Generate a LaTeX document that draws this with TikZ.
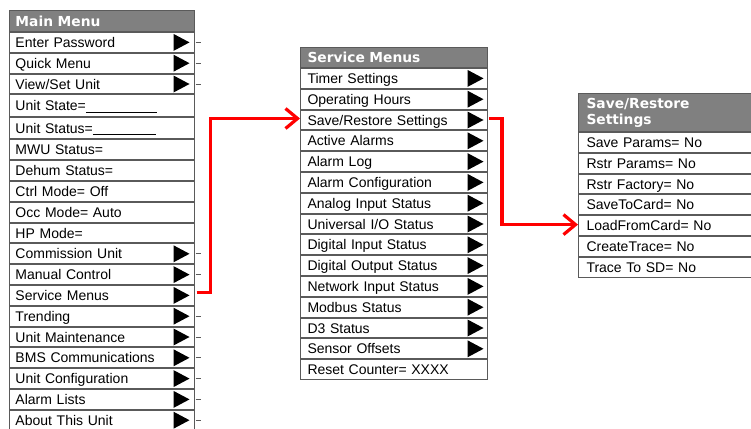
\documentclass[tikz,border=0pt]{standalone}
\usepackage{fontspec}
\setmainfont{Liberation Sans}
\newfontfamily\headfont{DejaVu Sans}
\usetikzlibrary{arrows.meta, positioning}
\definecolor{headgray}{HTML}{808080}
\definecolor{rulegray}{HTML}{5A5A5A}
% black submenu triangle at the right end of a row, optional tick outside
\newcommand{\subarrow}[2][-5.5pt]{%
  \fill[black] ([xshift=#1]#2.east) -- ++(-16,-8.5) -- ++(0,17) -- cycle;}
\newcommand{\subtick}[1]{\draw[tick] ([xshift=0.5pt]#1.east) -- ++(5,0);}

\begin{document}
\begin{tikzpicture}[x=1pt, y=-1pt,
    head/.style={draw=rulegray, line width=1pt, fill=headgray, text=white,
                 font=\headfont\bfseries\fontsize{13.8}{16}\selectfont,
                 align=left, inner ysep=0pt, anchor=north west},
    item/.style={draw=rulegray, line width=1pt, fill=white,
                 font=\fontsize{14}{16}\selectfont, align=left,
                 text height=12.5pt, text depth=2.5pt, inner ysep=0pt,
                 minimum height=19.8pt, below=0pt of #1},
    link/.style={draw=red, line width=3.2pt,
                 -{Straight Barb[length=12pt,width=20pt]}},
    tick/.style={draw=rulegray, line width=0.8pt},
]
\useasboundingbox (0,0) rectangle (751,428);

% Main Menu
\begin{scope}[every node/.append style={text width=173pt, inner xsep=6pt}]
  \node[head, minimum height=21pt] (mm) at (9,10) {Main Menu};
  \node[item=mm] (m1) {Enter Password};
  \node[item=m1] (m2) {Quick Menu};
  \node[item=m2] (m3) {View/Set Unit};
  \node[item=m3, minimum height=21.5pt] (m4) {Unit State=\rule[-2pt]{71pt}{0.9pt}};
  \node[item=m4, minimum height=21.5pt] (m5) {Unit Status=\rule[-2pt]{63pt}{0.9pt}};
  \node[item=m5] (m6) {MWU Status=};
  \node[item=m6] (m7) {Dehum Status=};
  \node[item=m7] (m8) {Ctrl Mode= Off};
  \node[item=m8] (m9) {Occ Mode= Auto};
  \node[item=m9] (m10) {HP Mode=};
  \node[item=m10] (m11) {Commission Unit};
  \node[item=m11] (m12) {Manual Control};
  \node[item=m12] (m13) {Service Menus};
  \node[item=m13] (m14) {Trending};
  \node[item=m14] (m15) {Unit Maintenance};
  \node[item=m15] (m16) {BMS Communications};
  \node[item=m16] (m17) {Unit Configuration};
  \node[item=m17] (m18) {Alarm Lists};
  \node[item=m18] (m19) {About This Unit};
\end{scope}
\subarrow{m1} \subarrow{m2} \subarrow{m3}
\subarrow{m11} \subarrow{m12} \subarrow{m13} \subarrow{m14}
\subarrow{m15} \subarrow{m16} \subarrow{m17} \subarrow{m18} \subarrow{m19}
\subtick{m1} \subtick{m2} \subtick{m3}
\subtick{m11} \subtick{m12} \subtick{m14}
\subtick{m15} \subtick{m16} \subtick{m17} \subtick{m18} \subtick{m19}

% Service Menus
\begin{scope}[every node/.append style={text width=173pt, inner xsep=7pt}]
  \node[head, minimum height=20pt] (sm) at (300,47) {Service Menus};
  \node[item=sm] (s1) {Timer Settings};
  \node[item=s1] (s2) {Operating Hours};
  \node[item=s2] (s3) {Save/Restore Settings};
  \node[item=s3] (s4) {Active Alarms};
  \node[item=s4] (s5) {Alarm Log};
  \node[item=s5] (s6) {Alarm Configuration};
  \node[item=s6] (s7) {Analog Input Status};
  \node[item=s7] (s8) {Universal I/O Status};
  \node[item=s8] (s9) {Digital Input Status};
  \node[item=s9] (s10) {Digital Output Status};
  \node[item=s10] (s11) {Network Input Status};
  \node[item=s11] (s12) {Modbus Status};
  \node[item=s12] (s13) {D3 Status};
  \node[item=s13] (s14) {Sensor Offsets};
  \node[item=s14] (s15) {Reset Counter= XXXX};
\end{scope}
\subarrow[-4.5pt]{s1} \subarrow[-4.5pt]{s2} \subarrow[-4.5pt]{s3}
\subarrow[-4.5pt]{s4} \subarrow[-4.5pt]{s5} \subarrow[-4.5pt]{s6}
\subarrow[-4.5pt]{s7} \subarrow[-4.5pt]{s8} \subarrow[-4.5pt]{s9}
\subarrow[-4.5pt]{s10} \subarrow[-4.5pt]{s11} \subarrow[-4.5pt]{s12}
\subarrow[-4.5pt]{s13} \subarrow[-4.5pt]{s14}

% Save/Restore Settings
\begin{scope}[every node/.append style={text width=159pt, inner xsep=8pt}]
  \node[head, minimum height=38pt] (rm) at (578,93) {Save/Restore\\Settings};
  \node[item=rm] (r1) {Save Params= No};
  \node[item=r1] (r2) {Rstr Params= No};
  \node[item=r2] (r3) {Rstr Factory= No};
  \node[item=r3] (r4) {SaveToCard= No};
  \node[item=r4] (r5) {LoadFromCard= No};
  \node[item=r5] (r6) {CreateTrace= No};
  \node[item=r6] (r7) {Trace To SD= No};
\end{scope}

% red navigation links
\draw[link] ([xshift=1.5pt, yshift=3pt]m13.east) -- ++(14,0) |- ([yshift=1.5pt]s3.west);
\draw[link] ([xshift=1pt, yshift=1.5pt]s3.east) -- ++(13,0) |- ([yshift=1pt]r5.west);
\end{tikzpicture}
\end{document}
